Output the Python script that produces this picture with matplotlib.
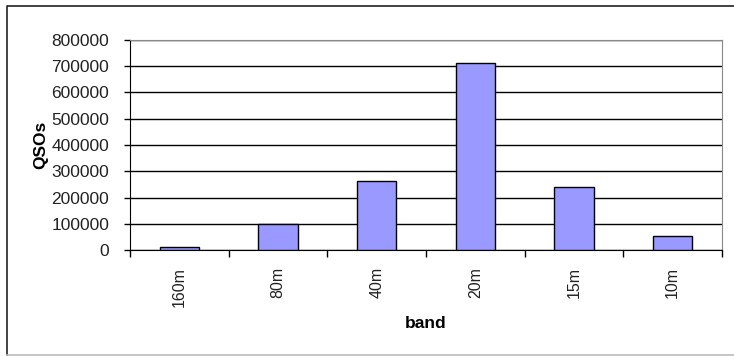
import matplotlib
matplotlib.use("Agg")
import matplotlib.pyplot as plt
import matplotlib.lines as mlines

bands = ["160m", "80m", "40m", "20m", "15m", "10m"]
qsos = [10000, 98000, 263000, 711000, 241000, 52000]
y_ticks = [0, 100000, 200000, 300000, 400000, 500000, 600000, 700000, 800000]

W, H = 734, 358
fig = plt.figure(figsize=(W / 100, H / 100), dpi=100)
plt.rcParams['font.family'] = ['Liberation Sans', 'DejaVu Sans']

# outer chart border like Excel (dark left/top, light bottom)
x0, x1 = 7 / W, 1.0
y0, y1 = 1 - 355 / H, 1 - 6 / H
fig.lines.append(mlines.Line2D([x0, x0, x1], [y0, y1, y1], transform=fig.transFigure,
                               color='#222222', lw=1.2))
fig.lines.append(mlines.Line2D([x0, x1], [y0, y0], transform=fig.transFigure,
                               color='#bbbbbb', lw=1.2))

ax = fig.add_axes([130 / W, 1 - 250 / H, 592 / W, 210 / H])
x = list(range(len(bands)))
ax.bar(x, qsos, width=0.4, color='#9999FF', edgecolor='black', lw=1, zorder=3)

ax.set_xlim(-0.5, len(bands) - 0.5)
ax.set_ylim(0, 800000)
ax.set_yticks(y_ticks)
ax.set_yticklabels([str(v) for v in y_ticks], fontsize=12.5, color='#222222')
ax.yaxis.grid(True, color='black', lw=1, zorder=0)
ax.tick_params(axis='y', length=4, width=1, pad=11)

# category ticks on boundaries, labels centered
ax.set_xticks([i - 0.5 for i in range(len(bands) + 1)])
ax.set_xticklabels([])
ax.set_xticks(x, minor=True)
ax.set_xticklabels(bands, minor=True, rotation=90, fontsize=11.5, color='#222222')
ax.tick_params(axis='x', which='major', length=5, width=1)
ax.tick_params(axis='x', which='minor', length=0, pad=12)

for s in ['top', 'right']:
    ax.spines[s].set_color('#888888')
for s in ['left', 'bottom']:
    ax.spines[s].set_color('black')

ax.set_ylabel("QSOs", fontsize=12.5, fontweight='bold', labelpad=2)
ax.set_xlabel("band", fontsize=12.5, fontweight='bold', labelpad=7)

fig.savefig("out.png", dpi=100)
